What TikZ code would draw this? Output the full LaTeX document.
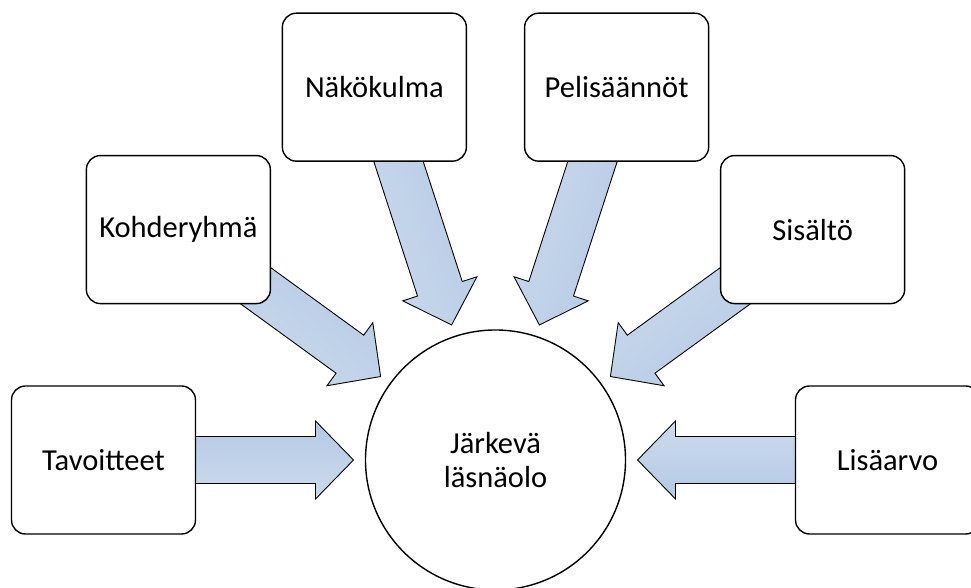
\documentclass[tikz,border=0pt]{standalone}
\usepackage{fontspec}
\setmainfont{Carlito}
\usetikzlibrary{calc}
\begin{document}
\begin{tikzpicture}[x=1pt,y=1pt,
  box/.style={draw=black,line width=1.4pt,rounded corners=14pt,fill=white,
    minimum width=184pt,minimum height=148pt,inner sep=0pt,
    font=\fontsize{30.5}{35}\selectfont},
  hub/.style={draw=black,line width=1.4pt,circle,fill=white,minimum size=260pt,
    inner sep=0pt,align=center,font=\fontsize{30.5}{34}\selectfont},
  barrow/.style={draw=black,line width=0.9pt,line join=miter,
    top color={rgb,255:red,204;green,219;blue,238},
    bottom color={rgb,255:red,180;green,201;blue,228}}]
\useasboundingbox (0,0) rectangle (971,588);
\clip (0,0) rectangle (971,588);
\coordinate (C) at (495.5,128);
% block arrows (drawn first, under boxes)
\foreach \a in {180,144,108,72,36,0}{
  \begin{scope}[shift={(C)},rotate=\a]
    \path[barrow,shading angle=\a]
      (391,23.5) -- (180,23.5) -- (180,39) -- (142,0) -- (180,-39)
      -- (180,-23.5) -- (391,-23.5) -- cycle;
  \end{scope}
}
\node[hub] (hubc) at (C) {Järkevä\\läsnäolo};
\node[box] (tav) at ($(C)+(180:392)$) {Tavoitteet};
\node[box] (koh) at ($(C)+(144:392)$) {Kohderyhmä};
\node[box] (nak) at ($(C)+(108:392)$) {Näkökulma};
\node[box] (pel) at ($(C)+(72:392)$) {Pelisäännöt};
\node[box] (sis) at ($(C)+(36:392)$) {Sisältö};
\node[box] (lis) at ($(C)+(0:392)$) {Lisäarvo};
\end{tikzpicture}
\end{document}
